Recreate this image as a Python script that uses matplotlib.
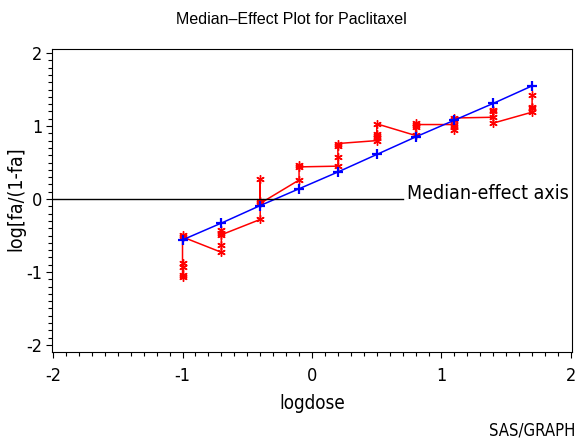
import numpy as np
import matplotlib
matplotlib.use('Agg')
import matplotlib.pyplot as plt
from matplotlib.ticker import MultipleLocator

# log dose levels
doses = [-1.0, -0.7, -0.4, -0.1, 0.2, 0.5, 0.8, 1.1, 1.4, 1.7]

# observed log[fa/(1-fa)] per dose, in plotting order
observed = [
    [-1.07, -1.04, -0.93, -0.87, -0.49, -0.52],
    [-0.73, -0.63, -0.43, -0.47, -0.49],
    [-0.28, -0.03, 0.28, -0.06],
    [0.26, 0.46, 0.44],
    [0.45, 0.57, 0.72, 0.76],
    [0.80, 0.83, 0.86, 0.89, 1.03],
    [0.87, 0.99, 1.04, 1.02],
    [1.02, 0.95, 0.99, 1.08, 1.11],
    [1.12, 1.20, 1.22, 1.04],
    [1.19, 1.24, 1.26, 1.42],
]

# fitted median-effect line
fitted = [-0.56, -0.33, -0.09, 0.14, 0.37, 0.61, 0.85, 1.08, 1.31, 1.55]

axis_end = 0.70

obs_x = [d for d, ys in zip(doses, observed) for _ in ys]
obs_y = [y for ys in observed for y in ys]

# tall narrow lettering for axes and notes
plt.rcParams['font.family'] = ['DejaVu Sans']
plt.rcParams['font.stretch'] = 'condensed'
plt.rcParams['axes.unicode_minus'] = False

fig = plt.figure(figsize=(5.79, 4.4), dpi=100)
ax = fig.add_axes([52 / 579, 88 / 440, 520 / 579, 303 / 440])

ax.plot(obs_x, obs_y, color='red', lw=1.1, marker=(6, 2, 0), ms=6, mew=1.0)
ax.plot(doses, fitted, color='blue', lw=1.1, marker='+', ms=6.5, mew=1.6)
ax.plot([-2.01, axis_end], [0, 0], color='black', lw=1.0)
ax.text(axis_end + 0.035, 0.0, 'Median-effect axis', fontsize=14,
        ha='left', va='baseline')

ax.set_xlim(-2.008, 2.008)
ax.set_ylim(-2.096, 2.055)
ax.xaxis.set_major_locator(MultipleLocator(1))
ax.xaxis.set_minor_locator(MultipleLocator(0.1))
ax.yaxis.set_major_locator(MultipleLocator(1))
ax.yaxis.set_minor_locator(MultipleLocator(0.1))
ax.tick_params(which='major', direction='out', length=4, width=0.8, labelsize=13)
ax.tick_params(which='minor', direction='out', length=3, width=0.8)
ax.tick_params(axis='x', pad=7)
ax.tick_params(axis='y', pad=3)

ax.set_xlabel('logdose', fontsize=13.5, labelpad=6)
fig.text(16 / 579, 0.548, 'log[fa/(1-fa]', fontsize=14, rotation=90,
         ha='center', va='center')

fig.text(0.503, 0.955, 'Median\u2013Effect Plot for Paclitaxel', fontsize=11.5,
         family=['Liberation Sans', 'DejaVu Sans'], stretch='normal',
         ha='center', va='center')
fig.text(0.994, 0.022, 'SAS/GRAPH', fontsize=12, ha='right', va='center')

fig.savefig('out.png', dpi=100)
